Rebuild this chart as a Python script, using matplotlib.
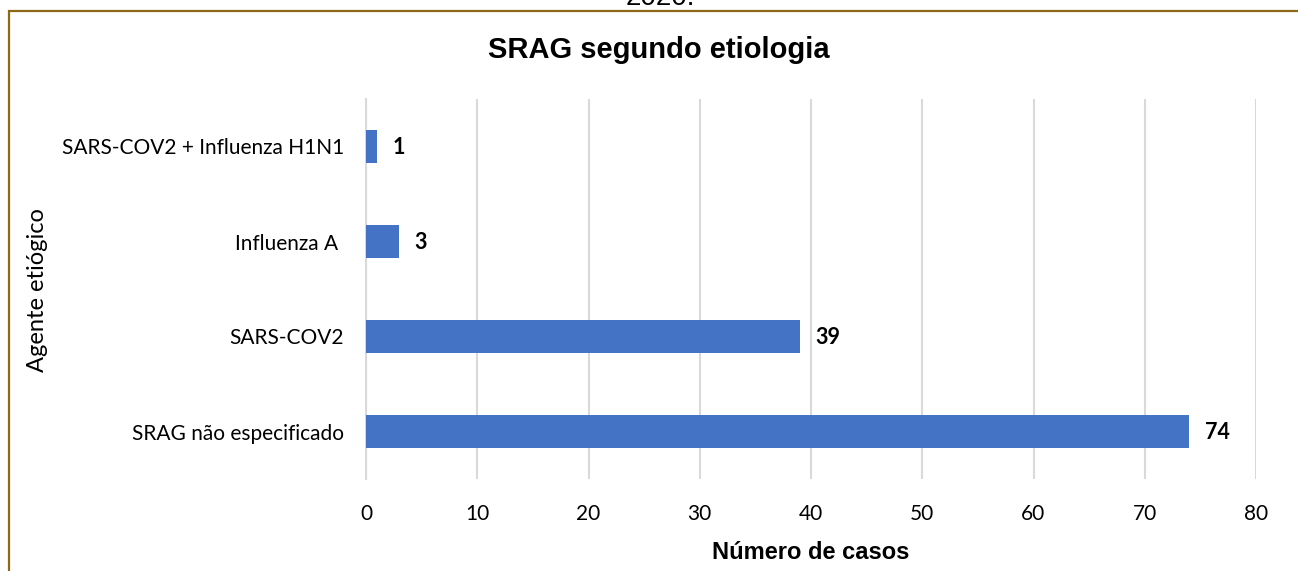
import matplotlib.pyplot as plt
from matplotlib.patches import Rectangle

# Data
categorias = ['SRAG não especificado', 'SARS-COV2', 'Influenza A ', 'SARS-COV2 + Influenza H1N1']
casos = [74, 39, 3, 1]
xticks = [0, 10, 20, 30, 40, 50, 60, 70, 80]

W, H = 1298, 571
fig = plt.figure(figsize=(W / 100, H / 100), dpi=100)

# Frame around the chart (only top and left visible)
fig.patches.append(Rectangle((9 / W, -0.05), 1.2, 1 - 10.5 / H + 0.05, transform=fig.transFigure,
                             fill=False, edgecolor='#8C6A14', linewidth=1.6))

# Caption cut off at the top, as in the source
fig.text(660 / W, 1 - 5 / H, '2020.', ha='center', va='baseline', fontsize=20,
         family='Liberation Sans')

ax = fig.add_axes([366 / W, 1 - 479 / H, (1256 - 366) / W, (479 - 99) / H])

y = range(len(categorias))
bars = ax.barh(y, casos, height=0.35, color='#4472C4', zorder=3)

for yi, v in zip(y, casos):
    ax.annotate(str(v), (v, yi), xytext=(11, -1), textcoords='offset points',
                ha='left', va='center', fontsize=15.5, fontweight='bold', family='Lato')

ax.set_xlim(0, 80)
ax.set_ylim(-0.5, len(categorias) - 0.5)
ax.set_xticks(xticks)
ax.set_yticks(list(y))
ax.set_yticklabels(categorias, family='Lato', fontsize=15)
ax.set_xticklabels([str(t) for t in xticks], family='Lato', fontsize=15)
ax.tick_params(axis='both', length=0)
ax.tick_params(axis='y', pad=16)
ax.tick_params(axis='x', pad=18)

ax.grid(axis='x', color='#D9D9D9', linewidth=1.5, zorder=0)
for s in ['top', 'right', 'bottom']:
    ax.spines[s].set_visible(False)
ax.spines['left'].set_color('#D9D9D9')
ax.spines['left'].set_linewidth(1.5)

ax.set_xlabel('Número de casos', fontsize=17, fontweight='bold', family='Liberation Sans', labelpad=12)
fig.text(38 / W, 1 - 290 / H, 'Agente etiógico', rotation=90, ha='center', va='center',
         fontsize=17, family='Lato')
fig.text(659 / W, 1 - 50 / H, 'SRAG segundo etiologia', ha='center', va='center',
         fontsize=21, fontweight='bold', family='Liberation Sans')

fig.savefig('out.png', dpi=100)
